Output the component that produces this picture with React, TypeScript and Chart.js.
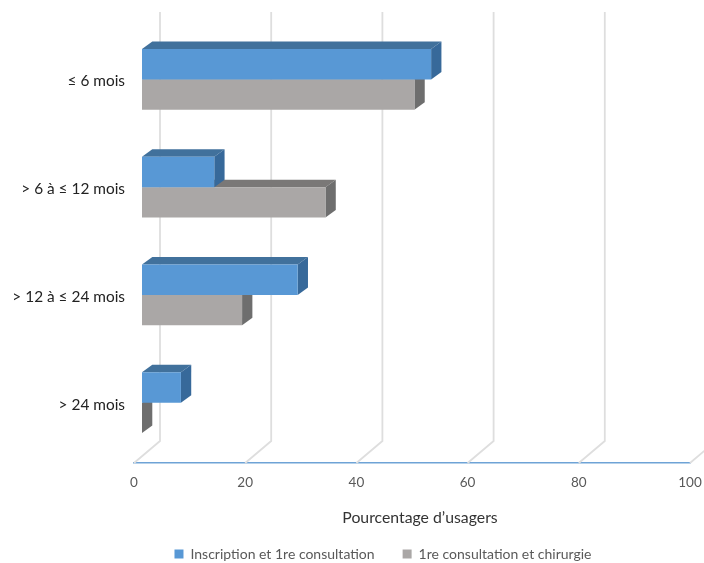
import { useEffect, useRef } from "react";
import { Chart, registerables } from "chart.js";

Chart.register(...registerables);

const categories = ["≤ 6 mois", "> 6 à ≤ 12 mois", "> 12 à ≤ 24 mois", "> 24 mois"];
const inscriptionConsultation = [52, 13, 28, 7];
const consultationChirurgie = [49, 33, 18, 0];
const xTicks = [0, 20, 40, 60, 80, 100];

const FONT = "Lato, 'Open Sans', sans-serif";

// Offsets of the pseudo-3D projection, in canvas pixels.
const BAR_SHIFT = { x: 8, y: -6.5 };
const BAR_DEPTH = { x: 10.3, y: 7.5 };
const WALL_DEPTH = { x: 26, y: -22 };
const WALL_TOP = 12;

// Horizontal nudges for the legend row and the axis title.
const LEGEND_SHIFT = 38;
const TITLE_SHIFT = 8;

const faceColors = [
  { top: "#41719c", side: "#37699a" },
  { top: "#7a7877", side: "#6e6e6e" },
];

// Back wall and floor gridlines.
const wallPlugin = {
  id: "wall",
  beforeDatasetsDraw(chart: any) {
    const { ctx, scales } = chart;
    const y0 = chart.chartArea.bottom;
    ctx.save();
    ctx.strokeStyle = "#dedede";
    ctx.lineWidth = 1.8;
    for (const v of xTicks) {
      const x = scales.x.getPixelForValue(v);
      ctx.beginPath();
      ctx.moveTo(x, y0);
      ctx.lineTo(x + WALL_DEPTH.x, y0 + WALL_DEPTH.y);
      ctx.lineTo(x + WALL_DEPTH.x, WALL_TOP);
      ctx.stroke();
    }
    ctx.restore();
  },
};

// Extrudes each bar: top and end faces go in first, the native bar is the front face.
const extrudePlugin = {
  id: "extrude",
  beforeDatasetDraw(chart: any, args: any) {
    const { ctx } = chart;
    const colors = faceColors[args.index];
    ctx.save();
    ctx.translate(BAR_SHIFT.x, BAR_SHIFT.y);
    for (const bar of args.meta.data) {
      const { x, y, base, height } = bar.getProps(["x", "y", "base", "height"], true);
      const top = y - height / 2;
      const bottom = y + height / 2;
      ctx.fillStyle = colors.top;
      ctx.beginPath();
      ctx.moveTo(base, top);
      ctx.lineTo(base + BAR_DEPTH.x, top - BAR_DEPTH.y);
      ctx.lineTo(x + BAR_DEPTH.x, top - BAR_DEPTH.y);
      ctx.lineTo(x, top);
      ctx.closePath();
      ctx.fill();
      ctx.fillStyle = colors.side;
      ctx.beginPath();
      ctx.moveTo(x, top);
      ctx.lineTo(x + BAR_DEPTH.x, top - BAR_DEPTH.y);
      ctx.lineTo(x + BAR_DEPTH.x, bottom - BAR_DEPTH.y);
      ctx.lineTo(x, bottom);
      ctx.closePath();
      ctx.fill();
    }
  },
  afterDatasetDraw(chart: any) {
    chart.ctx.restore();
  },
};

// Moves the legend row off-centre and the axis title onto the shifted bar plane.
const placementPlugin = {
  id: "placement",
  afterLayout(chart: any) {
    chart.legend.left += LEGEND_SHIFT;
    chart.legend.right += LEGEND_SHIFT;
    const axis = chart.scales.x;
    if (!axis.__titleWrapped) {
      const drawTitle = axis.drawTitle;
      axis.drawTitle = function () {
        chart.ctx.save();
        chart.ctx.translate(TITLE_SHIFT, 0);
        drawTitle.call(this);
        chart.ctx.restore();
      };
      axis.__titleWrapped = true;
    }
  },
};

export default function App() {
  const canvasRef = useRef<HTMLCanvasElement>(null);

  useEffect(() => {
    const chart = new Chart(canvasRef.current!, {
      type: "bar",
      data: {
        labels: categories,
        datasets: [
          {
            label: "Inscription et 1re consultation",
            data: inscriptionConsultation,
            backgroundColor: "#5898d5",
            clip: false,
          },
          {
            label: "1re consultation et chirurgie",
            data: consultationChirurgie,
            backgroundColor: "#aaa7a6",
            clip: false,
          },
        ],
      } as any,
      options: {
        indexAxis: "y",
        responsive: false,
        animation: false,
        layout: { padding: { left: 0, right: 14, top: 32, bottom: -8 } },
        categoryPercentage: 0.5627,
        barPercentage: 1,
        scales: {
          x: {
            type: "linear",
            min: 0,
            max: 100,
            afterBuildTicks(axis: any) {
              axis.ticks = xTicks.map((value) => ({ value }));
            },
            afterFit(axis: any) {
              axis.height = 56;
              axis.paddingRight = 0;
              axis.paddingLeft = 0;
            },
            grid: { display: false, drawTicks: false },
            border: { display: true, color: "#6ea3d6", width: 1.5 },
            ticks: {
              color: "#595959",
              font: { family: FONT, size: 13.5 },
              padding: 12,
              maxRotation: 0,
            },
            title: {
              display: true,
              text: "Pourcentage d’usagers",
              color: "#333333",
              font: { family: FONT, size: 15.8 },
              padding: { top: 0, bottom: -8.5 },
            },
          },
          y: {
            afterFit(axis: any) {
              axis.width = 134;
            },
            grid: { display: false, drawTicks: false },
            border: { display: false },
            ticks: {
              color: "#222222",
              font: { family: FONT, size: 15.4 },
              padding: 9,
              labelOffset: -4.5,
              autoSkip: false,
            },
          },
        },
        plugins: {
          tooltip: { enabled: false },
          legend: {
            position: "bottom",
            labels: {
              boxWidth: 9,
              boxHeight: 9,
              color: "#595959",
              font: { family: FONT, size: 14 },
              padding: 28,
            },
          },
        },
      } as any,
      plugins: [wallPlugin, extrudePlugin, placementPlugin],
    });
    return () => chart.destroy();
  }, []);

  return (
    <div style={{ position: "absolute", left: 0, top: 0, width: 704, height: 563 }}>
      <canvas ref={canvasRef} width={704} height={563} style={{ display: "block" }} />
    </div>
  );
}
